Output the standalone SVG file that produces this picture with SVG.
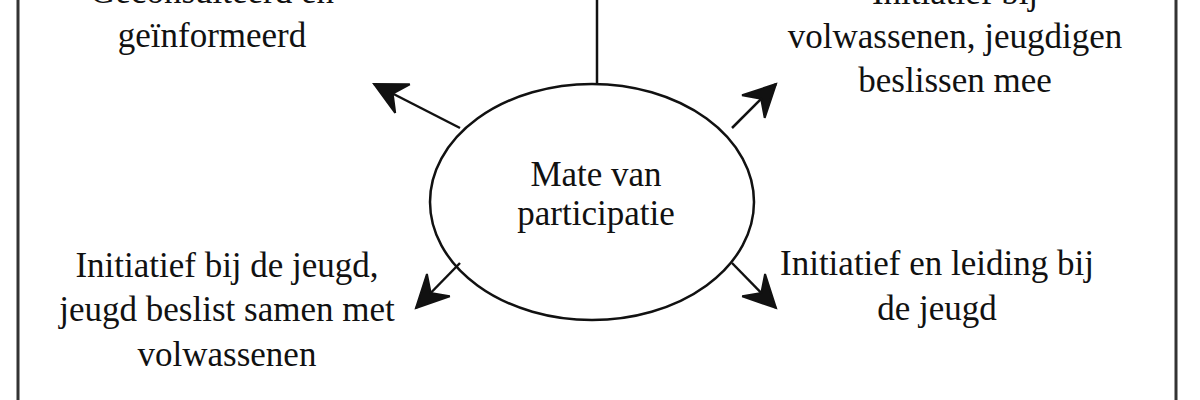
<svg xmlns="http://www.w3.org/2000/svg" width="1200" height="400" viewBox="0 0 1200 400">
  <style>
    .lbl { font-family: "Liberation Serif", "Times New Roman", serif; font-size: 35px; fill: #111; text-anchor: middle; }
    .ln { stroke: #111; stroke-width: 2.5; fill: none; }
    .border { stroke: #333; stroke-width: 3; fill: none; }
  </style>
  <defs>
    <marker id="arr" viewBox="-36 -20 40 40" refX="0" refY="0" markerWidth="40" markerHeight="40" markerUnits="userSpaceOnUse" orient="auto">
      <path d="M0,0 L-32,-16 L-21,0 L-32,16 Z" fill="#111" stroke="#111" stroke-width="2" stroke-linejoin="miter"/>
    </marker>
  </defs>
  <rect width="1200" height="400" fill="#fff"/>
  <g id="frame">
    <line class="border" x1="18" y1="0" x2="18" y2="400"/>
    <line class="border" x1="1176" y1="0" x2="1176" y2="400"/>
  </g>
  <g id="connectors">
    <line class="ln" x1="597" y1="0" x2="597" y2="84"/>
    <line class="ln" x1="460" y1="128" x2="374" y2="84" marker-end="url(#arr)"/>
    <line class="ln" x1="732" y1="128" x2="776" y2="84" marker-end="url(#arr)"/>
    <line class="ln" x1="460" y1="263" x2="416" y2="308" marker-end="url(#arr)"/>
    <line class="ln" x1="732" y1="263" x2="776" y2="308" marker-end="url(#arr)"/>
  </g>
  <g id="center">
    <ellipse class="ln" cx="592" cy="202" rx="162" ry="118"/>
    <text class="lbl" x="596" y="186">Mate van</text>
    <text class="lbl" x="596" y="225">participatie</text>
  </g>
  <g id="top-left">
    <text class="lbl" x="212" y="3">Geconsulteerd en</text>
    <text class="lbl" x="212" y="47">geïnformeerd</text>
  </g>
  <g id="top-right">
    <text class="lbl" x="955" y="4">Initiatief bij</text>
    <text class="lbl" x="955" y="48">volwassenen, jeugdigen</text>
    <text class="lbl" x="955" y="92">beslissen mee</text>
  </g>
  <g id="bottom-left">
    <text class="lbl" x="227" y="277">Initiatief bij de jeugd,</text>
    <text class="lbl" x="227" y="321">jeugd beslist samen met</text>
    <text class="lbl" x="227" y="366">volwassenen</text>
  </g>
  <g id="bottom-right">
    <text class="lbl" x="937" y="275">Initiatief en leiding bij</text>
    <text class="lbl" x="937" y="320">de jeugd</text>
  </g>
</svg>
